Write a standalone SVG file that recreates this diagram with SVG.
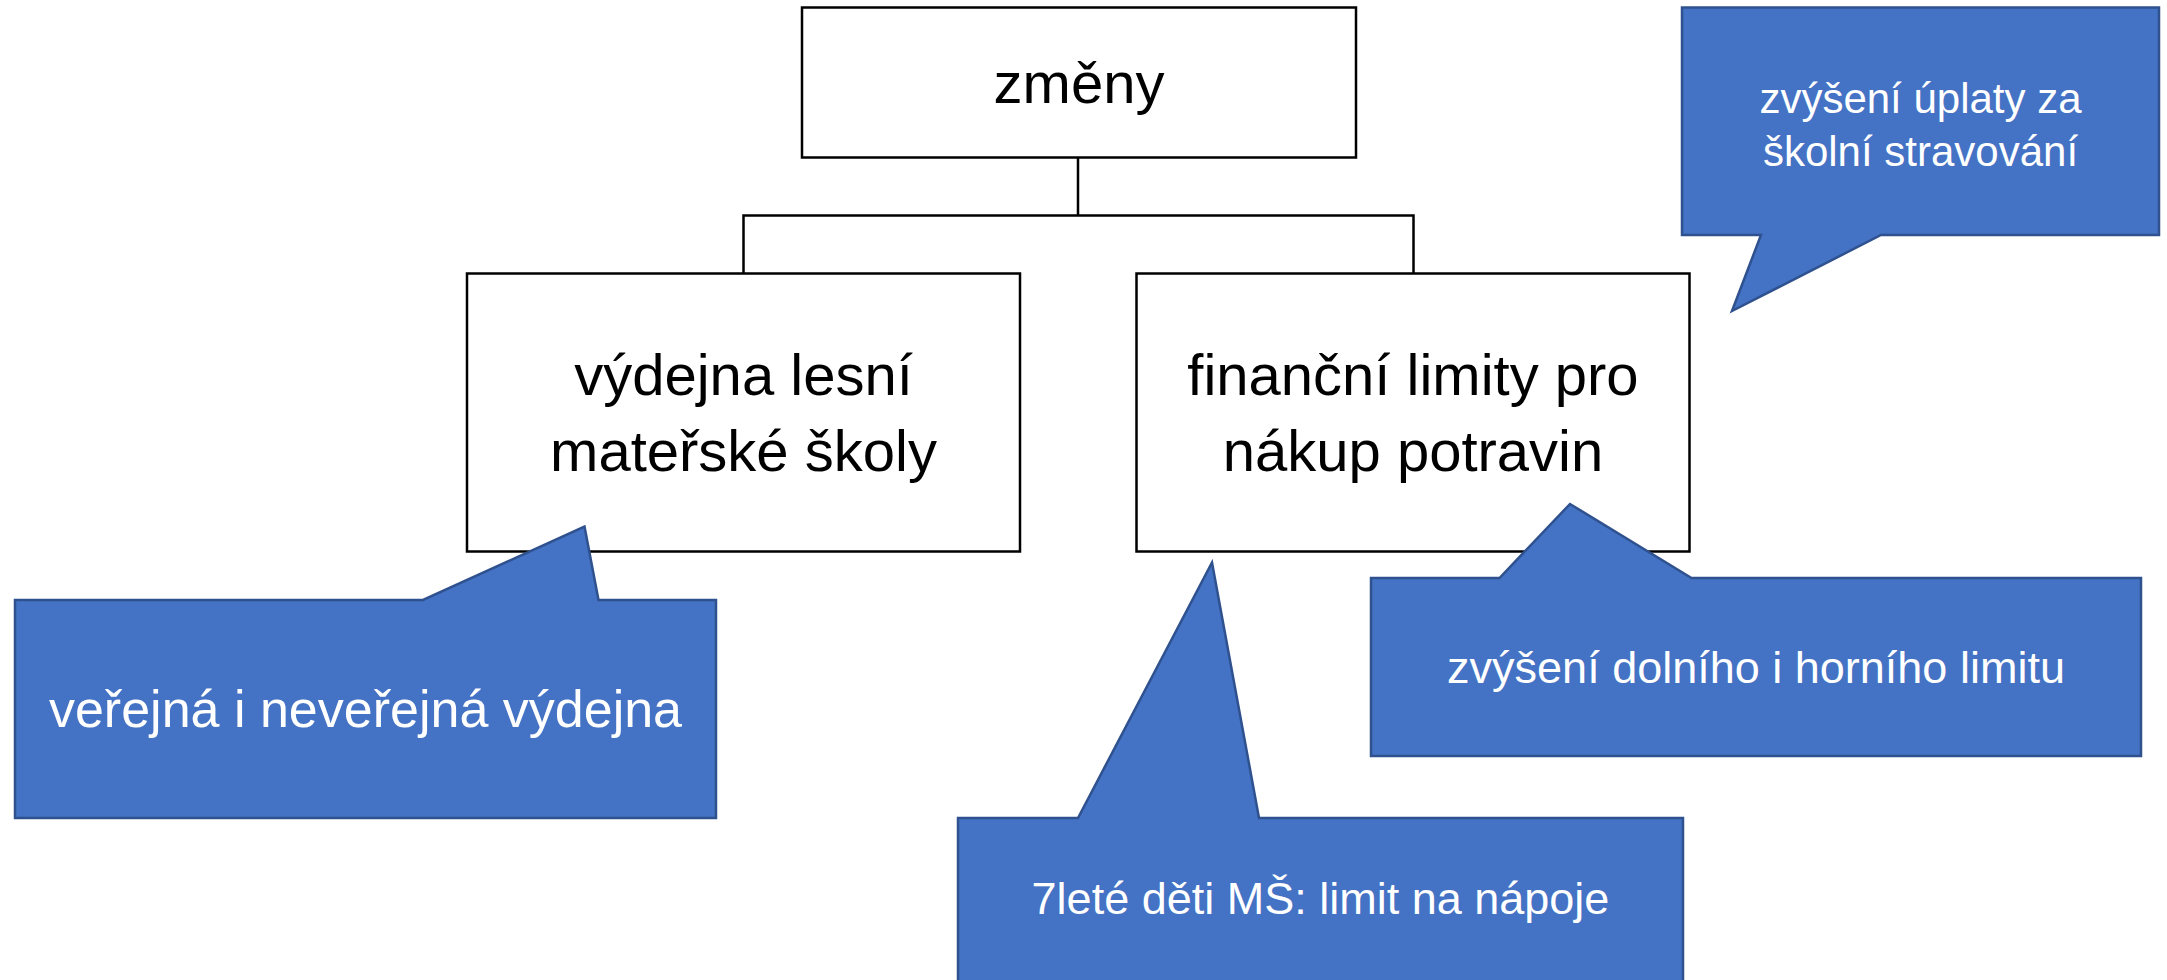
<svg xmlns="http://www.w3.org/2000/svg" width="2167" height="980" viewBox="0 0 2167 980">
<style>
.box{fill:#ffffff;stroke:#000000;stroke-width:2.5}
.conn{fill:none;stroke:#000000;stroke-width:2.5}
.call{fill:#4472C4;stroke:#2F528F;stroke-width:2.5;stroke-linejoin:miter}
.bt{font-family:"Liberation Sans",Arial,sans-serif;font-size:58px;fill:#000000;text-anchor:middle}
.ct{font-family:"Liberation Sans",Arial,sans-serif;fill:#ffffff;text-anchor:middle}
</style>
<g id="connectors">
<path class="conn" d="M1078,158 V215.5 M743.5,273.5 V215.5 H1413.5 V273.5"/>
</g>
<g id="node-zmeny">
<rect class="box" x="802" y="7.5" width="554" height="150"/>
<text class="bt" x="1079" y="103">změny</text>
</g>
<g id="node-vydejna">
<rect class="box" x="467" y="273.5" width="553" height="278"/>
<text class="bt" x="743.5" y="395">výdejna lesní</text>
<text class="bt" x="743.5" y="471">mateřské školy</text>
</g>
<g id="node-limity">
<rect class="box" x="1136.5" y="273.5" width="553" height="278"/>
<text class="bt" x="1413" y="395">finanční limity pro</text>
<text class="bt" x="1413" y="471">nákup potravin</text>
</g>
<g id="callout-verejna">
<path class="call" d="M15,600 H423 L584.5,526.5 L598.5,600 H716 V818 H15 Z"/>
<text class="ct" x="365.5" y="727" font-size="52">veřejná i neveřejná výdejna</text>
</g>
<g id="callout-napoje">
<path class="call" d="M958,818 H1078 L1212,562.5 L1259,818 H1683 V1000 H958 Z"/>
<text class="ct" x="1320.5" y="914" font-size="45">7leté děti MŠ: limit na nápoje</text>
</g>
<g id="callout-limit">
<path class="call" d="M1371,578 H1499.5 L1570,504 L1691.5,578 H2141 V756 H1371 Z"/>
<text class="ct" x="1756" y="683" font-size="45">zvýšení dolního i horního limitu</text>
</g>
<g id="callout-uplata">
<path class="call" d="M1682,7.5 H2159 V235 H1881 L1732,311 L1761,235 H1682 Z"/>
<text class="ct" x="1920.5" y="113" font-size="42">zvýšení úplaty za</text>
<text class="ct" x="1920.5" y="166" font-size="42">školní stravování</text>
</g>
</svg>
